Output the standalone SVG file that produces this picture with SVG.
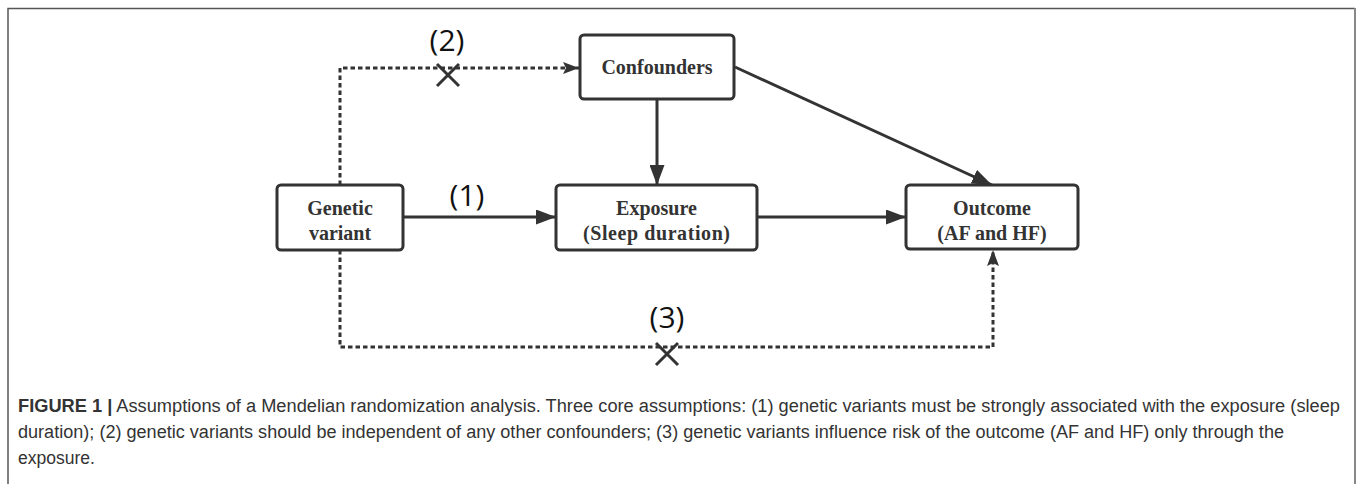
<svg xmlns="http://www.w3.org/2000/svg" width="1357" height="484" viewBox="0 0 1357 484">
<defs>
<style>
.box{fill:#fff;stroke:#333;stroke-width:3}
.nt{font-family:"Liberation Serif","Times New Roman",serif;font-weight:bold;font-size:20px;fill:#333;text-anchor:middle}
.lbl{font-family:"Open Sans","Liberation Sans",sans-serif;font-size:30px;fill:#111;text-anchor:middle}
.solid{fill:none;stroke:#333;stroke-width:3}
.dot{fill:none;stroke:#333;stroke-width:3;stroke-dasharray:4.5 3}
.x{stroke:#333;stroke-width:3;fill:none}
.cap{font-family:"Liberation Sans",Arial,sans-serif;font-size:18px;fill:#333}
</style>
<marker id="ah" markerWidth="20" markerHeight="15" refX="20" refY="7.5" orient="auto" markerUnits="userSpaceOnUse">
<path d="M0,0 L20,7.5 L0,15 Z" fill="#333"/>
</marker>
<marker id="ahs" markerWidth="16" markerHeight="12" refX="16" refY="6" orient="auto" markerUnits="userSpaceOnUse">
<path d="M0,0 L16,6 L0,12 L3,6 Z" fill="#333"/>
</marker>
</defs>
<rect width="1357" height="484" fill="#fff"/>
<path d="M8,484 V8.5 H1355" fill="none" stroke="#555" stroke-width="1.5"/>
<path d="M1355,8 V484" fill="none" stroke="#888" stroke-width="2"/>

<g id="connectors">
<path class="solid" d="M403,217 H556" marker-end="url(#ah)"/>
<path class="solid" d="M758,217 H906" marker-end="url(#ah)"/>
<path class="solid" d="M657,99 V185" marker-end="url(#ah)"/>
<path class="solid" d="M735,67 L992,185" marker-end="url(#ah)"/>
<path class="dot" d="M340,185 V68 H579" marker-end="url(#ahs)"/>
<path class="dot" d="M340,250 V347 H993 V250" marker-end="url(#ahs)"/>
<path class="x" d="M437,64 L459,86 M459,64 L437,86"/>
<path class="x" d="M656,343 L678,365 M678,343 L656,365"/>
<text class="lbl" x="467" y="206">(1)</text>
<text class="lbl" x="447" y="51">(2)</text>
<text class="lbl" x="667" y="328">(3)</text>
</g>

<g id="confounders">
<rect class="box" x="580" y="35" width="154" height="64" rx="4"/>
<text class="nt" x="657" y="74">Confounders</text>
</g>
<g id="genetic">
<rect class="box" x="277" y="185" width="126" height="65" rx="4"/>
<text class="nt" x="340" y="215">Genetic</text>
<text class="nt" x="340" y="240">variant</text>
</g>
<g id="exposure">
<rect class="box" x="556" y="185" width="201" height="65" rx="4"/>
<text class="nt" x="656.5" y="215">Exposure</text>
<text class="nt" x="656.5" y="240" textLength="147" lengthAdjust="spacing">(Sleep duration)</text>
</g>
<g id="outcome">
<rect class="box" x="906" y="185" width="172" height="64" rx="4"/>
<text class="nt" x="992" y="215">Outcome</text>
<text class="nt" x="992" y="240">(AF and HF)</text>
</g>

<g id="caption">
<text class="cap" x="18" y="412" textLength="1322" lengthAdjust="spacingAndGlyphs"><tspan font-weight="bold">FIGURE 1 |</tspan> Assumptions of a Mendelian randomization analysis. Three core assumptions: (1) genetic variants must be strongly associated with the exposure (sleep</text>
<text class="cap" x="18" y="438" textLength="1266" lengthAdjust="spacingAndGlyphs">duration); (2) genetic variants should be independent of any other confounders; (3) genetic variants influence risk of the outcome (AF and HF) only through the</text>
<text class="cap" x="18" y="464" textLength="77" lengthAdjust="spacingAndGlyphs">exposure.</text>
</g>
</svg>
